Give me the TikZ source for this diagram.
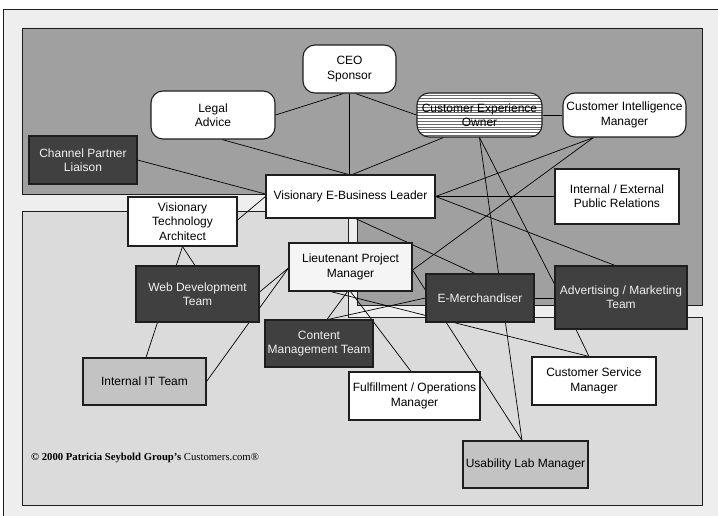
\documentclass[tikz,border=0pt]{standalone}
\usepackage{fontspec}
\setmainfont{Liberation Serif}
\newfontfamily\arialfont{Liberation Sans}
\usetikzlibrary{calc}
\definecolor{cOuter}{HTML}{EEEEEE}
\definecolor{cDarkReg}{HTML}{A0A0A0}
\definecolor{cLightReg}{HTML}{DBDBDB}
\definecolor{cDarkBox}{HTML}{404040}
\definecolor{cMidBox}{HTML}{C3C3C3}
\definecolor{cPale}{HTML}{F5F5F5}
\definecolor{cEdge}{HTML}{1E1E1E}
\definecolor{cHatch}{HTML}{6A6A6A}
\pgfdeclarelayer{bg}
\pgfdeclarelayer{lines}
\pgfsetlayers{bg,lines,main}
\begin{document}
\begin{tikzpicture}[x=1pt,y=-1pt,
  base/.style={draw=cEdge, line width=1.1pt, inner sep=0pt, align=center,
    font=\arialfont\fontsize{12}{14.3}\selectfont},
  whitebox/.style={base, fill=white},
  roundbox/.style={base, fill=white, rounded corners=12pt},
  darkfill/.style={base, fill=cDarkBox, text=white!94!black},
  midfill/.style={base, fill=cMidBox},
  palefill/.style={base, fill=cPale},
  hatchbox/.style={base, fill=white, rounded corners=12pt,
    path picture={\foreach \k in {1,...,15}{\draw[cHatch, line width=0.35pt]
      ($(path picture bounding box.north west)+(0,\k*2.85-0.4)$) -- ++(140,0);}}},
  link/.style={line width=0.7pt, black},
  region/.style={draw=cEdge, line width=0.9pt}]
\useasboundingbox (0,0) rectangle (718,516);
\begin{pgfonlayer}{bg}
  \fill[white] (0,0) rectangle (718,516);
  \fill[cOuter] (3,9) rectangle (718,516);
  \draw[region] (3,516) -- (3,9) -- (718,9);
  \draw[region, fill=cDarkReg] (22,28) -- (702,28) -- (702,305) -- (357,305) -- (357,194) -- (22,194) -- cycle;
  \draw[region, fill=cLightReg] (22,211) -- (348,211) -- (348,317) -- (702,317) -- (702,505) -- (22,505) -- cycle;
\end{pgfonlayer}

\node[roundbox, minimum width=93pt, minimum height=48pt] (ceo) at (349.5,69) {CEO\\Sponsor};
\node[roundbox, minimum width=124pt, minimum height=48pt] (legal) at (213,115) {Legal\\Advice};
\node[hatchbox, minimum width=125pt, minimum height=44pt] (cxo) at (479.5,115) {Customer Experience\\Owner};
\node[roundbox, minimum width=123pt, minimum height=44pt] (cim) at (624.5,115) {Customer Intelligence\\Manager};
\node[darkfill, minimum width=108pt, minimum height=48pt] (cpl) at (83,160) {Channel Partner\\Liaison};
\node[whitebox, minimum width=169pt, minimum height=43pt] (ebl) at (350.5,196.5) {Visionary E-Business Leader};
\node[whitebox, minimum width=124pt, minimum height=55pt] (pr) at (617,196.5) {Internal / External\\Public Relations};
\node[whitebox, minimum width=109pt, minimum height=49pt] (vta) at (182.5,221.5) {Visionary\\Technology\\Architect};
\node[palefill, minimum width=123pt, minimum height=48pt] (lpm) at (350.5,267) {Lieutenant Project\\Manager};
\node[darkfill, minimum width=123pt, minimum height=56pt] (web) at (197.5,294) {Web Development\\Team};
\node[darkfill, minimum width=108pt, minimum height=48pt] (emer) at (480,298) {E-Merchandiser};
\node[darkfill, minimum width=132pt, minimum height=63pt] (adv) at (621,297.5) {Advertising / Marketing\\Team};
\node[darkfill, minimum width=108pt, minimum height=47pt] (cmt) at (319,343.5) {Content\\Management Team};
\node[midfill, minimum width=123pt, minimum height=47pt] (iit) at (144.5,381.5) {Internal IT Team};
\node[whitebox, minimum width=131pt, minimum height=48pt] (fom) at (414.5,396) {Fulfillment / Operations\\Manager};
\node[whitebox, minimum width=124pt, minimum height=48pt] (csm) at (594,381) {Customer Service\\Manager};
\node[midfill, minimum width=125pt, minimum height=47pt] (ulm) at (525.5,464.5) {Usability Lab Manager};
\node[anchor=west, inner sep=0pt, font=\fontsize{10.7}{12}\selectfont] (copy) at (31,458)
  {\textbf{© 2000 Patricia Seybold Group’s} Customers.com®};

\begin{pgfonlayer}{lines}
  \draw[link] (legal.east) -- ([xshift=-6pt]ceo.south);
  \draw[link] (ceo.south) -- (ceo.south |- ebl.north);
  \draw[link] ([xshift=6pt]ceo.south) -- (cxo.west);
  \draw[link] ([xshift=9pt]legal.south) -- ([xshift=-2pt]ebl.north);
  \draw[link] ([xshift=-36pt]cxo.south) -- ([xshift=2pt]ebl.north);
  \draw[link] (cxo.east) -- (cim.west);
  \draw[link] (cpl.east) -- ([yshift=2.5pt]ebl.west);
  \draw[link] ([yshift=1.5pt]vta.east) -- (ebl.west);
  \draw[link] (ebl.east) -- (pr.west);
  \draw[link] (ebl.east) -- ([xshift=-31pt]cim.south);
  \draw[link] (ebl.east) -- ([xshift=-6pt]adv.north);
  \draw[link] ([xshift=5pt]ebl.south) -- ([xshift=-5pt]emer.north);
  \draw[link] ([yshift=-3pt]lpm.east) -- ([xshift=-31pt]cim.south);
  \draw[link] (cxo.south) -- ([xshift=-3.5pt]ulm.north);
  \draw[link] (cxo.south) -- ([yshift=13.5pt]adv.west);
  \draw[link] ([yshift=-3pt]lpm.east) -- ([xshift=-3.5pt]ulm.north);
  \draw[link] (emer.east) -- (emer.east -| adv.west);
  \draw[link] ([xshift=-45pt]adv.south) -- ([xshift=-5pt]csm.north);
  \draw[link] ([xshift=-20pt]lpm.south) -- ([xshift=-5pt]csm.north);
  \draw[link] ([xshift=-3pt]lpm.south) -- ([xshift=8pt]cmt.north);
  \draw[link] ([xshift=9pt]cmt.north) -- (emer.west);
  \draw[link] (lpm.south) -- ([xshift=-3.5pt]fom.north);
  \draw[link] ([yshift=2pt]web.east) -- ([yshift=-1pt]lpm.west);
  \draw[link] (iit.east) -- ([yshift=-1pt]lpm.west);
  \draw[link] (vta.south) -- ([xshift=-2.5pt]web.north);
  \draw[link] (vta.south) -- ([xshift=1.5pt]iit.north);
\end{pgfonlayer}
\end{tikzpicture}
\end{document}
